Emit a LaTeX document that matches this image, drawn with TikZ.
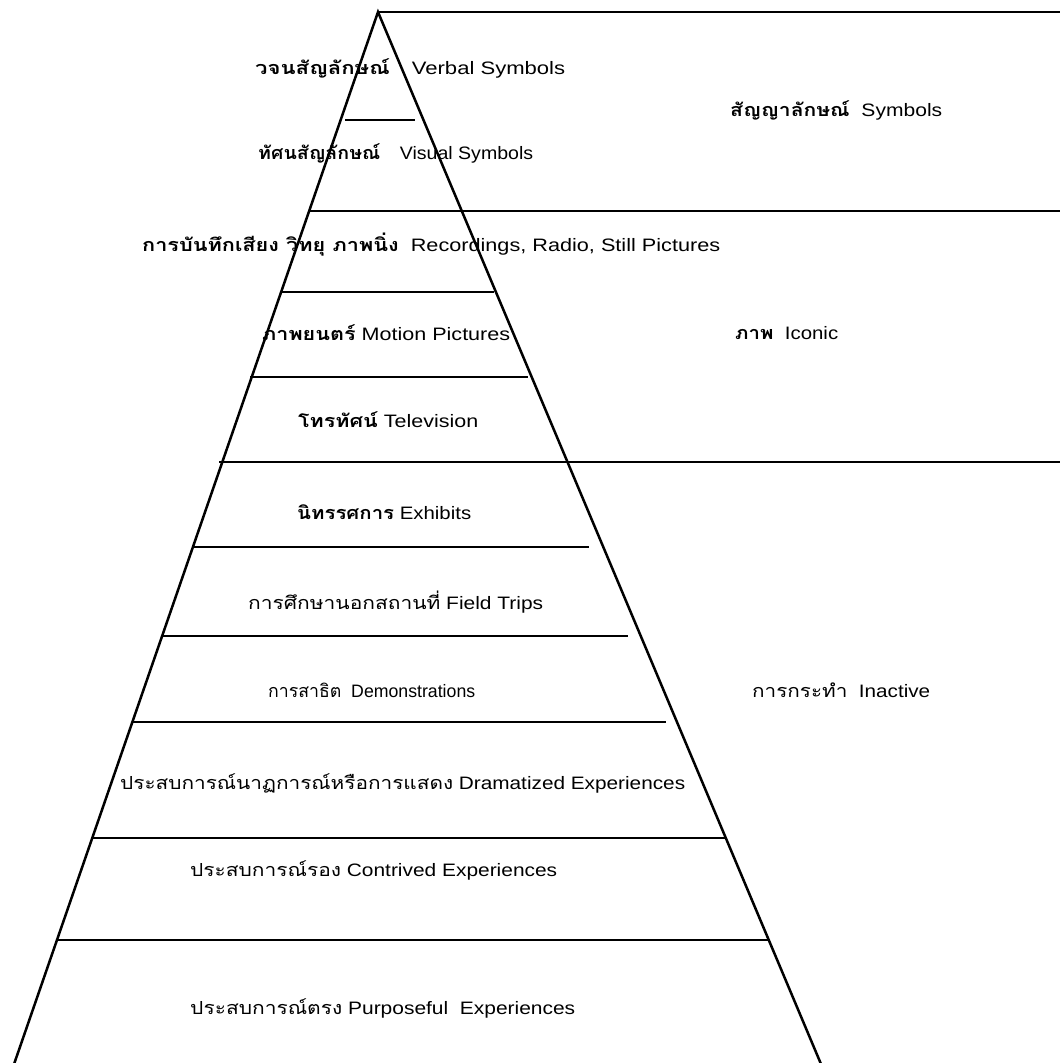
\documentclass[tikz,border=0pt]{standalone}
\usepackage{fontspec}
\setmainfont{Liberation Sans}
\newfontfamily\thai[Script=Thai]{Loma}
\newcommand{\fitw}[2]{\resizebox{#1pt}{\height}{#2}}
\begin{document}
\begin{tikzpicture}[x=1pt,y=-1pt,
  pyr/.style={line width=2.5pt},
  framel/.style={line width=1.3pt},
  lab/.style={anchor=west, inner sep=0pt, font=\fontsize{18}{20}\selectfont}]
\useasboundingbox (0,0) rectangle (1060,1063);
\begin{scope}
\clip (0,0) rectangle (1060,1063);
\coordinate (apex) at (378,12);
\coordinate (bl) at (12,1070);
\coordinate (br) at (823.5,1070);
\draw[framel] (apex) -- (1060,12);
\draw[framel] (460,211) -- (1060,211);
\draw[framel] (566,462) -- (1060,462);
\draw[pyr, line join=miter] (bl) -- (apex) -- (br);
\draw[pyr] (345,120) -- (415,120);
\draw[pyr] (310,211) -- (460,211);
\draw[pyr] (281,292) -- (494,292);
\draw[pyr] (250,377) -- (528,377);
\draw[pyr] (219,462) -- (566,462);
\draw[pyr] (193,547) -- (589,547);
\draw[pyr] (163,636) -- (628,636);
\draw[pyr] (133,722) -- (666,722);
\draw[pyr] (91,838) -- (725,838);
\draw[pyr] (56,940) -- (768,940);
\end{scope}
\node[lab] (t1) at (255,68) {\fitw{310}{{\thai\bfseries วจนสัญลักษณ์}\quad Verbal Symbols}};
\node[lab] (t2) at (258,153) {\fitw{275}{{\thai\bfseries ทัศนสัญลักษณ์}\quad Visual Symbols}};
\node[lab] (t3) at (142,245) {\fitw{578}{{\thai\bfseries การบันทึกเสียง วิทยุ ภาพนิ่ง}\ \ Recordings, Radio, Still Pictures}};
\node[lab] (t4) at (262,333) {\fitw{248}{{\thai\bfseries ภาพยนตร์} Motion Pictures}};
\node[lab] (t5) at (298,420) {\fitw{180}{{\thai\bfseries โทรทัศน์} Television}};
\node[lab] (t6) at (297,512) {\fitw{174}{{\thai\bfseries นิทรรศการ} Exhibits}};
\node[lab] (t7) at (248,602) {\fitw{295}{{\thai การศึกษานอกสถานที่} Field Trips}};
\node[lab] (t8) at (268,690) {\fitw{207}{{\thai การสาธิต}\ \ Demonstrations}};
\node[lab] (t9) at (120,783) {\fitw{565}{{\thai ประสบการณ์นาฏการณ์หรือการแสดง} Dramatized Experiences}};
\node[lab] (t10) at (190,870) {\fitw{367}{{\thai ประสบการณ์รอง} Contrived Experiences}};
\node[lab] (t11) at (190,1008) {\fitw{385}{{\thai ประสบการณ์ตรง} Purposeful\ \ Experiences}};
\node[lab] (t12) at (730,110) {\fitw{212}{{\thai\bfseries สัญญาลักษณ์}\ \ Symbols}};
\node[lab] (t13) at (735,333) {\fitw{103}{{\thai\bfseries ภาพ}\ \ Iconic}};
\node[lab] (t14) at (752,690) {\fitw{178}{{\thai การกระทำ}\ \ Inactive}};
\end{tikzpicture}
\end{document}
